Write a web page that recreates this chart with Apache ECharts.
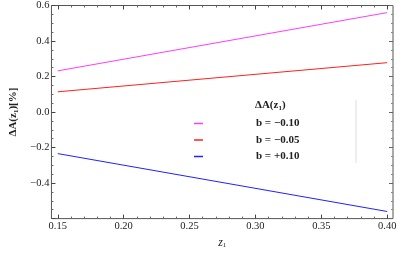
<!DOCTYPE html>
<html>
<head>
<meta charset="utf-8">
<script src="https://cdn.jsdelivr.net/npm/echarts@6/dist/echarts.min.js"></script>
<style>html,body{margin:0;padding:0;background:#fff;}#c{width:407px;height:254px;}</style>
</head>
<body>
<div id="c"></div>
<script>
const zValues = [0.15, 0.40];
const seriesNames = ['b = \u22120.10', 'b = \u22120.05', 'b = +0.10'];
const bMinus010 = [0.232, 0.560];
const bMinus005 = [0.114, 0.278];
const bPlus010 = [-0.234, -0.560];
const xMajorTicks = [0.15, 0.20, 0.25, 0.30, 0.35, 0.40];
const xMinorTicks = [0.16,0.17,0.18,0.19,0.21,0.22,0.23,0.24,0.26,0.27,0.28,0.29,0.31,0.32,0.33,0.34,0.36,0.37,0.38,0.39];
const colors = ['#ff3cff', '#ff2020', '#2020ff'];

const FONT = 'Liberation Serif';
const pairs = (ys) => zValues.map((x, i) => [x, ys[i]]);

function xAx(extra) {
  return Object.assign({
    type: 'value', min: 0.1452, max: 0.4044, gridIndex: 0,
    splitLine: { show: false }, axisLine: { show: false, onZero: false }
  }, extra);
}
const chart = echarts.init(document.getElementById('c'));
chart.setOption({
  animation: false,
  grid: { left: 42.5, right: 14, top: 5, bottom: 32, show: true, borderColor: '#555', borderWidth: 1 },
  xAxis: [
    xAx({
      position: 'bottom',
      name: '{i|z}{s|1}', nameLocation: 'middle', nameGap: 17,
      nameTextStyle: { rich: {
        i: { fontFamily: FONT, fontStyle: 'italic', fontSize: 12, color: '#222' },
        s: { fontFamily: FONT, fontSize: 7, color: '#222', padding: [6, 0, 0, 0] }
      } },
      axisTick: { show: true, inside: true, length: 4, lineStyle: { color: '#444' }, customValues: xMajorTicks },
      axisLabel: { show: true, margin: 2, fontFamily: FONT, fontSize: 10.5, color: '#222',
        customValues: xMajorTicks, formatter: v => v.toFixed(2) }
    }),
    xAx({
      position: 'bottom',
      axisTick: { show: true, inside: true, length: 2, lineStyle: { color: '#666' }, customValues: xMinorTicks },
      axisLabel: { show: false }
    }),
    xAx({
      position: 'top',
      axisTick: { show: true, inside: true, length: 4, lineStyle: { color: '#444' }, customValues: xMajorTicks },
      axisLabel: { show: false }
    }),
    xAx({
      position: 'top',
      axisTick: { show: true, inside: true, length: 2, lineStyle: { color: '#666' }, customValues: xMinorTicks },
      axisLabel: { show: false }
    })
  ],
  yAxis: [
    {
      type: 'value', min: -0.6, max: 0.6, interval: 0.2, position: 'left',
      name: '\u0394A(z{s|1})[%]', nameLocation: 'middle', nameGap: 24, nameRotate: 90,
      nameTextStyle: { fontFamily: FONT, fontWeight: 'bold', fontSize: 11, color: '#222',
        rich: { s: { fontFamily: FONT, fontWeight: 'bold', fontSize: 7, color: '#222', padding: [5, 0, 0, 0] } } },
      splitLine: { show: false }, axisLine: { show: false, onZero: false },
      axisTick: { show: true, inside: true, length: 4, lineStyle: { color: '#444' } },
      minorTick: { show: true, splitNumber: 4, length: 2, lineStyle: { color: '#666' } },
      axisLabel: { margin: 2, fontFamily: FONT, fontSize: 10.5, color: '#222',
        formatter: v => (Math.abs(v + 0.6) < 1e-9 ? '' : (v < 0 ? '\u2212' + Math.abs(v).toFixed(1) : v.toFixed(1))) }
    },
    {
      type: 'value', min: -0.6, max: 0.6, interval: 0.2, position: 'right',
      splitLine: { show: false }, axisLine: { show: false, onZero: false },
      axisTick: { show: true, inside: true, length: 4, lineStyle: { color: '#666' } },
      minorTick: { show: true, splitNumber: 4, length: 2, lineStyle: { color: '#888' } },
      axisLabel: { show: false }
    }
  ],
  legend: {
    orient: 'vertical', left: 189, top: 113, itemGap: 5.5,
    itemWidth: 9, itemHeight: 1.5, icon: 'rect',
    data: seriesNames,
    formatter: name => '{a|' + name + '}',
    textStyle: { rich: { a: { fontFamily: FONT, fontWeight: 'bold', fontSize: 11, color: '#222', padding: [0, 0, 0, 48] } } }
  },
  graphic: [
    { type: 'text', left: 255, top: 100,
      style: { text: '\u0394A(z{s|1})', fontFamily: FONT, fontWeight: 'bold', fontSize: 11, fill: '#222',
        rich: { s: { fontFamily: FONT, fontWeight: 'bold', fontSize: 7, fill: '#222', padding: [5, 0, 0, 0] } } } },
    { type: 'line', shape: { x1: 356, y1: 100, x2: 356, y2: 163 }, style: { stroke: '#ddd', lineWidth: 1 } }
  ],
  series: [
    { name: seriesNames[0], type: 'line', data: pairs(bMinus010), showSymbol: false, symbol: 'none',
      lineStyle: { color: colors[0], width: 1 }, itemStyle: { color: colors[0] } },
    { name: seriesNames[1], type: 'line', data: pairs(bMinus005), showSymbol: false, symbol: 'none',
      lineStyle: { color: colors[1], width: 1 }, itemStyle: { color: colors[1] } },
    { name: seriesNames[2], type: 'line', data: pairs(bPlus010), showSymbol: false, symbol: 'none',
      lineStyle: { color: colors[2], width: 1 }, itemStyle: { color: colors[2] } }
  ]
});
</script>
</body>
</html>
